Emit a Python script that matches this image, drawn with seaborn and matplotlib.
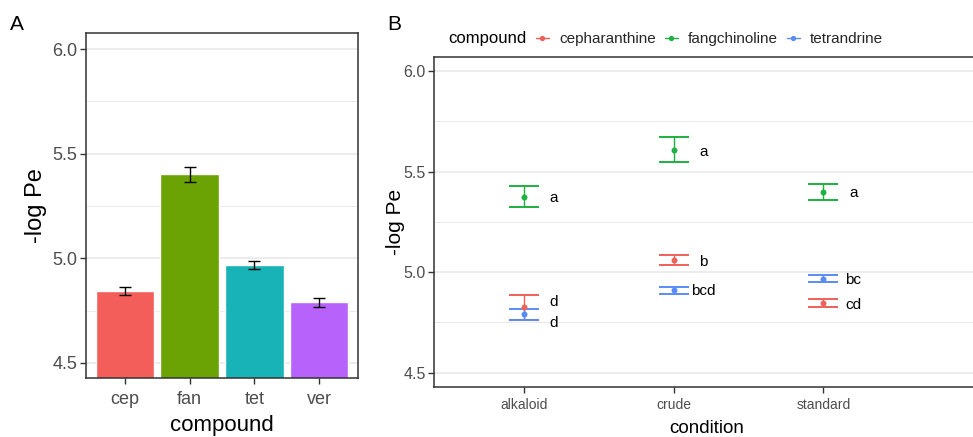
import matplotlib
matplotlib.use("Agg")
import matplotlib.pyplot as plt
from matplotlib.lines import Line2D
import seaborn as sns
import pandas as pd
import numpy as np

# ---------------- data ----------------
# Panel A
a_compounds = ["cep", "fan", "tet", "ver"]
a_values = [4.844, 5.401, 4.967, 4.789]
a_errors = [0.019, 0.036, 0.019, 0.021]
a_colors = ["#F35E5A", "#6BA304", "#18B3B7", "#B762FB"]

# Panel B
b_conditions = ["alkaloid", "crude", "standard"]
b_compounds = ["cepharanthine", "fangchinoline", "tetrandrine"]
b_colors = ["#F0605A", "#1EB040", "#5A8CF5"]
b_cep = [4.824, 5.060, 4.845]
b_cep_err = [0.063, 0.025, 0.020]
b_fan = [5.375, 5.610, 5.399]
b_fan_err = [0.052, 0.062, 0.038]
b_tet = [4.791, 4.910, 4.968]
b_tet_err = [0.027, 0.017, 0.019]
# significance letters
lab_condition = ["alkaloid", "alkaloid", "alkaloid", "crude", "crude", "crude", "standard", "standard", "standard"]
lab_text = ["a", "d", "d", "a", "b", "bcd", "a", "bc", "cd"]
lab_y = [5.368, 4.852, 4.748, 5.600, 5.052, 4.905, 5.395, 4.960, 4.835]

# ---------------- style ----------------
sns.set_theme(style="white")
plt.rcParams["font.family"] = ["Liberation Sans", "DejaVu Sans"]
TICKC = "#4D4D4D"
BORDER = "#333333"
GRID = "#EBEBEB"

W, H = 973, 437
fig = plt.figure(figsize=(W / 100, H / 100), dpi=100)

def px_axes(l, t, r, b):
    return fig.add_axes([l / W, 1 - b / H, (r - l) / W, (b - t) / H])

def style_axes(ax, pad):
    ax.set_yticks([4.5, 5.0, 5.5, 6.0])
    ax.set_yticks([4.75, 5.25, 5.75], minor=True)
    ax.yaxis.grid(True, which="major", color=GRID, lw=1.3, zorder=0)
    ax.yaxis.grid(True, which="minor", color=GRID, lw=0.7, zorder=0)
    ax.xaxis.grid(False)
    ax.set_axisbelow(True)
    ax.tick_params(axis="both", which="major", length=4, width=1.0, color=BORDER,
                   labelcolor=TICKC, bottom=True, left=True, pad=2)
    ax.tick_params(axis="x", which="major", pad=pad)
    ax.tick_params(axis="y", which="minor", length=0)
    for s in ax.spines.values():
        s.set_color(BORDER)
        s.set_linewidth(1.1)

# ---------------- Panel A ----------------
axa = px_axes(86, 33, 358, 378)
df_a = pd.DataFrame({"compound": a_compounds, "value": a_values})
sns.barplot(data=df_a, x="compound", y="value", hue="compound", order=a_compounds,
            hue_order=a_compounds, palette=a_colors, width=0.9, saturation=1,
            errorbar=None, legend=False, ax=axa, zorder=2)
axa.errorbar(np.arange(len(a_compounds)), a_values, yerr=a_errors, fmt="none",
             ecolor="black", elinewidth=1.0, capsize=4.3, capthick=1.0, zorder=3)
style_axes(axa, pad=5)
axa.set_xlim(-0.6, 3.6)
axa.set_ylim(4.428, 6.077)
axa.set_xlabel("compound", fontsize=16, color="black", labelpad=5.5)
axa.set_ylabel("-log Pe", fontsize=17, color="black", labelpad=4)
for lab in axa.get_xticklabels() + axa.get_yticklabels():
    lab.set_fontsize(13)
fig.text(10 / W, 1 - 24 / H, "A", fontsize=15, va="center", ha="left", color="black")

# ---------------- Panel B ----------------
axb = px_axes(434, 57, 980, 387)
rows = []
for comp, vals, errs in [("cepharanthine", b_cep, b_cep_err),
                         ("fangchinoline", b_fan, b_fan_err),
                         ("tetrandrine", b_tet, b_tet_err)]:
    for cond, v, e in zip(b_conditions, vals, errs):
        rows.append({"condition": cond, "compound": comp, "value": v, "se": e})
df_b = pd.DataFrame(rows)

cmap = dict(zip(b_compounds, b_colors))
for _, r in df_b.iterrows():
    xi = b_conditions.index(r["condition"])
    axb.errorbar([xi], [r["value"]], yerr=[r["se"]], fmt="none", ecolor=cmap[r["compound"]],
                 elinewidth=1.0, capsize=10.8, capthick=1.4, zorder=3)
sns.pointplot(data=df_b, x="condition", y="value", hue="compound", order=b_conditions,
              hue_order=b_compounds, palette=b_colors, linestyle="none", markers="o",
              markersize=4.3, markeredgewidth=0, dodge=False, errorbar=None, legend=False,
              ax=axb)
for coll in axb.collections:
    coll.set_zorder(4)
for ln in axb.lines:
    ln.set_zorder(4)

for cond, txt, y in zip(lab_condition, lab_text, lab_y):
    axb.text(b_conditions.index(cond) + 0.2, y, txt, ha="center", va="center",
             fontsize=11, color="black", zorder=5)

style_axes(axb, pad=4)
axb.spines["right"].set_visible(False)
axb.set_xlim(-0.6, 3.045)
axb.set_ylim(4.428, 6.071)
axb.set_xlabel("condition", fontsize=13.5, color="black", labelpad=6)
axb.set_ylabel("-log Pe", fontsize=15, color="black", labelpad=-1)
for lab in axb.get_xticklabels():
    lab.set_fontsize(10)
for lab in axb.get_yticklabels():
    lab.set_fontsize(11.5)
fig.text(387 / W, 1 - 24 / H, "B", fontsize=15, va="center", ha="left", color="black")

# legend
fig.text(448 / W, 1 - 39 / H, "compound", fontsize=12, va="center",
         ha="left", color="black")
handles = [Line2D([0], [0], color=c, lw=1.0, marker="o", markersize=3.8,
                  markeredgewidth=0) for c in b_colors]
fig.legend(handles, b_compounds, loc="center left", bbox_to_anchor=(536 / W, 1 - 39 / H),
           ncol=3, frameon=False, handlelength=0.85, handletextpad=0.65, columnspacing=0.6,
           borderpad=0, borderaxespad=0, prop={"size": 11})

fig.savefig("out.png", dpi=100)
